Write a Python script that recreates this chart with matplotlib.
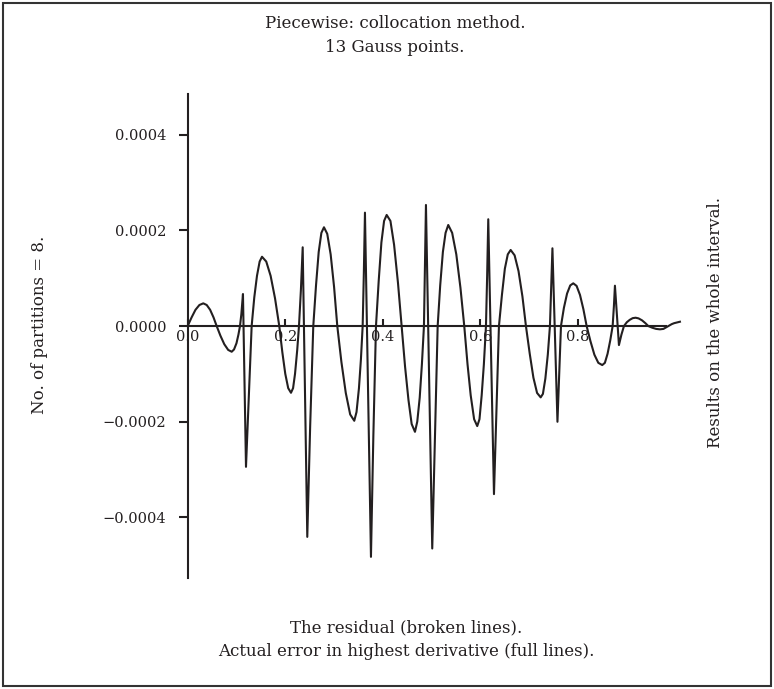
import numpy as np
import matplotlib.pyplot as plt
from matplotlib.patches import Rectangle

#%% Data (error in units of 1e-4)
x_pts = [
    # partition 1
    0.0, 0.008, 0.016, 0.024, 0.032, 0.039, 0.046, 0.053, 0.0594, 0.067,
    0.075, 0.083, 0.0902, 0.095, 0.100, 0.104, 0.1072, 0.110, 0.1133, 0.1195,
    # partition 2
    0.1255, 0.1311, 0.1365, 0.1420, 0.1475, 0.1523, 0.1610, 0.1700, 0.1790, 0.1877,
    0.1940, 0.2000, 0.2060, 0.2117, 0.2160, 0.2200, 0.2245, 0.2281, 0.2320, 0.2357,
    0.2451,
    # partition 3
    0.2510, 0.2574, 0.2630, 0.2685, 0.2740, 0.2793, 0.2860, 0.2930, 0.3000, 0.3066,
    0.3150, 0.3240, 0.3330, 0.3414, 0.3460, 0.3510, 0.3550, 0.3586, 0.3610, 0.3633,
    0.3756,
    # partition 4
    0.3805, 0.3859, 0.3915, 0.3970, 0.4025, 0.4078, 0.4155, 0.4230, 0.4310, 0.4385,
    0.4455, 0.4525, 0.4590, 0.4658, 0.4705, 0.4755, 0.4800, 0.4842, 0.4862, 0.4883,
    0.5012,
    # partition 5
    0.5068, 0.5123, 0.5175, 0.5230, 0.5285, 0.5340, 0.5420, 0.5505, 0.5590, 0.5668,
    0.5735, 0.5800, 0.5870, 0.5934, 0.5980, 0.6025, 0.6070, 0.6113, 0.6137, 0.6160,
    0.6277,
    # partition 6
    0.6328, 0.6379, 0.6440, 0.6500, 0.6560, 0.6619, 0.6700, 0.6780, 0.6860, 0.6932,
    0.7010, 0.7085, 0.7160, 0.7234, 0.7280, 0.7330, 0.7380, 0.7424, 0.7450, 0.7475,
    0.7578,
    # partition 7
    0.7615, 0.7650, 0.7710, 0.7775, 0.7840, 0.7902, 0.7970, 0.8040, 0.8110, 0.8176,
    0.8255, 0.8335, 0.8415, 0.8496, 0.8550, 0.8605, 0.8660, 0.8709, 0.8735, 0.8756,
    0.8838,
    # partition 8
    0.8889, 0.8941, 0.9000, 0.9060, 0.9120, 0.9180, 0.9240, 0.9310, 0.9380, 0.9439,
    0.9520, 0.9600, 0.9678, 0.9750, 0.9800, 0.9848, 0.9920, 0.9970, 1.0088,
]

err_pts = [
    # partition 1
    0.0, 0.18, 0.34, 0.44, 0.475, 0.44, 0.34, 0.18, 0.0, -0.20,
    -0.38, -0.50, -0.538, -0.49, -0.36, -0.18, 0.0, 0.25, 0.67, -2.947,
    # partition 2
    -1.40, 0.0, 0.60, 1.05, 1.35, 1.45, 1.35, 1.05, 0.58, 0.0,
    -0.55, -1.00, -1.30, -1.397, -1.30, -1.00, -0.50, 0.0, 0.75, 1.648,
    -4.413,
    # partition 3
    -2.1, 0.0, 0.85, 1.55, 1.95, 2.067, 1.93, 1.50, 0.82, 0.0,
    -0.75, -1.40, -1.85, -1.983, -1.80, -1.30, -0.70, 0.0, 1.1, 2.373,
    -4.831,
    # partition 4
    -2.3, 0.0, 0.95, 1.75, 2.2, 2.325, 2.2, 1.70, 0.90, 0.0,
    -0.85, -1.55, -2.05, -2.214, -2.0, -1.5, -0.8, 0.0, 1.2, 2.534,
    -4.656,
    # partition 5
    -2.3, 0.0, 0.85, 1.55, 1.95, 2.115, 1.95, 1.50, 0.80, 0.0,
    -0.80, -1.45, -1.95, -2.094, -1.95, -1.45, -0.80, 0.0, 1.05, 2.235,
    -3.518,
    # partition 6
    -1.75, 0.0, 0.65, 1.20, 1.50, 1.592, 1.48, 1.15, 0.62, 0.0,
    -0.58, -1.08, -1.40, -1.493, -1.42, -1.10, -0.60, 0.0, 0.80, 1.627,
    -2.004,
    # partition 7
    -1.0, 0.0, 0.38, 0.68, 0.85, 0.894, 0.84, 0.65, 0.35, 0.0,
    -0.32, -0.60, -0.77, -0.817, -0.77, -0.58, -0.30, 0.0, 0.42, 0.844,
    -0.398,
    # partition 8
    -0.18, 0.0, 0.08, 0.13, 0.165, 0.174, 0.16, 0.12, 0.06, 0.0,
    -0.035, -0.06, -0.069, -0.06, -0.03, 0.0, 0.04, 0.06, 0.09,
]

xticks = [0.0, 0.2, 0.4, 0.6, 0.8]
xtick_labels = ['0.0', '0.2', '0.4', '0.6', '0.8']
yticks = [-0.0004, -0.0002, 0.0, 0.0002, 0.0004]
ytick_labels = ['\u22120.0004', '\u22120.0002', '0.0000', '0.0002', '0.0004']

title_lines = ['Piecewise: collocation method.', '13 Gauss points.']
bottom_lines = ['The residual (broken lines).', 'Actual error in highest derivative (full lines).']
left_label = 'No. of partitions = 8.'
right_label = 'Results on the whole interval.'

#%% Plot
plt.rcParams['font.family'] = ['DejaVu Serif']
ink = '#231f20'
fs = 12      # captions
fs_tick = 10.5

W, H = 774, 689
fig = plt.figure(figsize=(W / 100, H / 100), dpi=100)
ax = fig.add_axes([182.8 / W, 1 - 585 / H, 502.6 / W, 495 / H])

ax.plot(np.array(x_pts), np.array(err_pts) * 1e-4, color=ink, lw=1.5)

ax.set_xlim(-0.01, 1.02)
ax.set_ylim(-0.000542, 0.000494)

for s in ['top', 'right']:
    ax.spines[s].set_visible(False)
ax.spines['left'].set_position(('data', 0))
ax.spines['bottom'].set_position(('data', 0))
ax.spines['left'].set_bounds(-0.000527, 0.000486)
ax.spines['bottom'].set_bounds(0, 0.98)
for s in ['left', 'bottom']:
    ax.spines[s].set_linewidth(1.5)
    ax.spines[s].set_color(ink)

ax.set_xticks(xticks)
ax.set_xticklabels(xtick_labels)
ax.set_yticks(yticks)
ax.set_yticklabels(ytick_labels)
ax.tick_params(axis='x', direction='in', length=5, width=1.5, pad=3,
               labelsize=fs_tick, colors=ink)
ax.tick_params(axis='y', direction='out', length=6.5, width=1.5, pad=9,
               labelsize=fs_tick, colors=ink)
ax.patch.set_alpha(0)

# texts around the plot
fig.text(395 / W, 1 - 23 / H, title_lines[0], ha='center', va='center', fontsize=fs, color=ink)
fig.text(395 / W, 1 - 48 / H, title_lines[1], ha='center', va='center', fontsize=fs, color=ink)
fig.text(406 / W, 1 - 628 / H, bottom_lines[0], ha='center', va='center', fontsize=fs, color=ink)
fig.text(406 / W, 1 - 652 / H, bottom_lines[1], ha='center', va='center', fontsize=fs, color=ink)
fig.text(40 / W, 1 - 325 / H, left_label, rotation=90, ha='center', va='center', fontsize=fs, color=ink)
fig.text(715 / W, 1 - 322 / H, right_label, rotation=90, ha='center', va='center', fontsize=fs, color=ink)

# frame round the whole picture
fig.add_artist(Rectangle((3 / W, 3 / H), 1 - 6 / W, 1 - 6 / H, transform=fig.transFigure,
                         fill=False, lw=1.5, ec='#333333'))

fig.savefig('out.png', dpi=100)
